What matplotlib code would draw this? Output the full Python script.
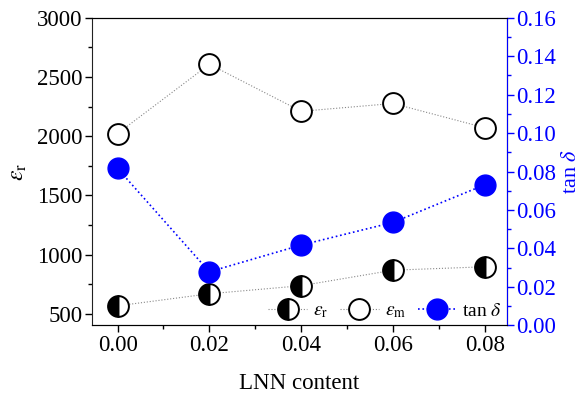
import matplotlib
matplotlib.use("Agg")
import matplotlib.pyplot as plt
from matplotlib.ticker import MultipleLocator

plt.rcParams["font.family"] = ["Liberation Serif", "DejaVu Serif"]
plt.rcParams["mathtext.fontset"] = "stix"

lnn = [0.00, 0.02, 0.04, 0.06, 0.08]
eps_r = [568, 670, 738, 869, 898]
eps_m = [2023, 2608, 2211, 2277, 2072]
tan_d = [0.0816, 0.0278, 0.0417, 0.0535, 0.0731]

BLUE = "#0000ff"

fig, ax = plt.subplots(figsize=(5.88, 3.97), dpi=100)
fig.subplots_adjust(left=0.157, right=0.862, top=0.955, bottom=0.181)
ax2 = ax.twinx()

l1, = ax.plot(lnn, eps_r, ls=":", lw=0.8, color="#888888", marker="o",
              ms=15, mfc="black", mec="black", mew=1.4, fillstyle="left",
              markerfacecoloralt="white", label=r"$\varepsilon_\mathrm{r}$", zorder=3)
l2, = ax.plot(lnn, eps_m, ls=":", lw=0.8, color="#888888", marker="o",
              ms=15, mfc="white", mec="black", mew=1.4,
              label=r"$\varepsilon_\mathrm{m}$", zorder=3)
l3, = ax2.plot(lnn, tan_d, ls=":", lw=1.2, color=BLUE, marker="o",
               ms=15, mfc=BLUE, mec=BLUE, label=r"tan $\delta$")

ax.set_xlim(-0.0055, 0.0848)
ax.set_ylim(405, 3000)
ax2.set_ylim(0, 0.16)

ax.xaxis.set_major_locator(MultipleLocator(0.02))
ax.xaxis.set_minor_locator(MultipleLocator(0.01))
ax.yaxis.set_major_locator(MultipleLocator(500))
ax.yaxis.set_minor_locator(MultipleLocator(250))
ax2.yaxis.set_major_locator(MultipleLocator(0.02))
ax2.yaxis.set_minor_locator(MultipleLocator(0.01))
ax.xaxis.set_major_formatter(lambda v, p: f"{v:.2f}")
ax2.yaxis.set_major_formatter(lambda v, p: f"{v:.2f}")

ax.tick_params(which="both", direction="out", labelsize=16.5, width=1)
ax.tick_params(which="major", length=5)
ax.tick_params(which="minor", length=3)
ax.tick_params(axis="x", pad=2)
ax.tick_params(axis="y", pad=2)
ax2.tick_params(which="both", direction="out", labelsize=16.5, colors=BLUE, width=1)
ax2.tick_params(which="major", length=5, pad=2)
ax2.tick_params(which="minor", length=3)

for s in ["left", "bottom", "top"]:
    ax.spines[s].set_color("#222222")
ax2.spines["right"].set_color(BLUE)
ax2.spines["left"].set_visible(False)

ax.set_xlabel("LNN content", fontsize=16.5, labelpad=12)
ax.set_ylabel(r"$\varepsilon_\mathrm{r}$", fontsize=17, labelpad=6)
ax2.set_ylabel(r"tan $\delta$", fontsize=16, color=BLUE, labelpad=4)

ax2.legend(handles=[l1, l2, l3], loc="lower right", ncol=3, frameon=False,
           fontsize=14, handlelength=2.0, handletextpad=0.3, columnspacing=0.6,
           borderaxespad=0.1, borderpad=0.15)

fig.savefig("out.png", dpi=100)
